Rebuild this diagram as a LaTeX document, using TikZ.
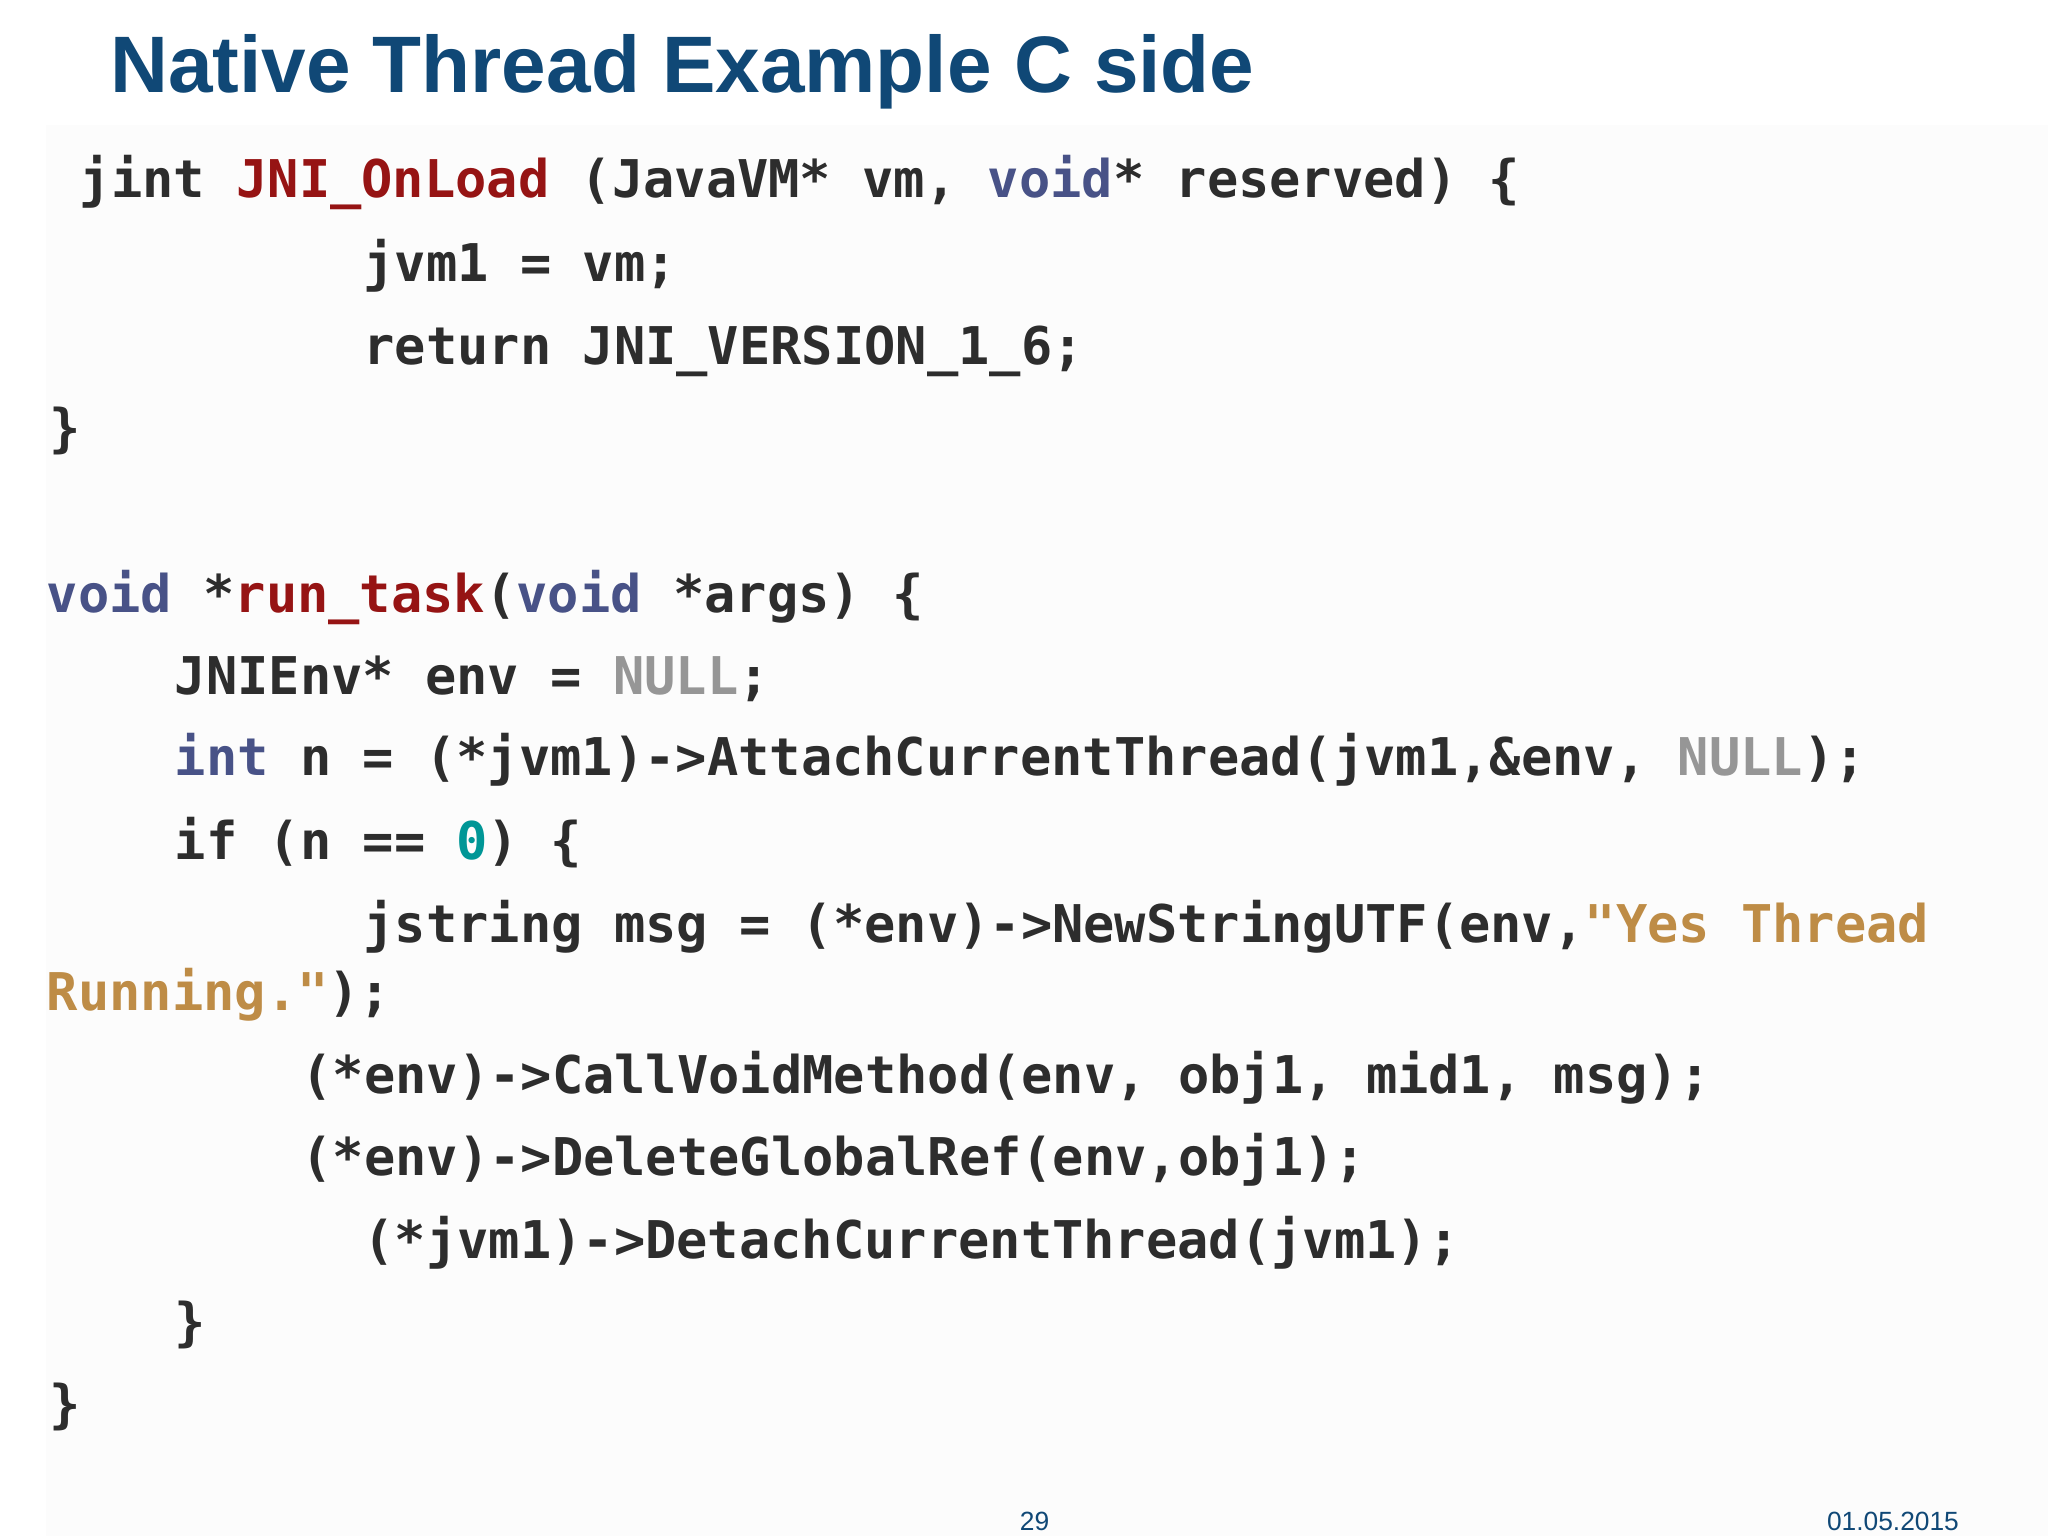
\documentclass[tikz,border=0pt]{standalone}
\usepackage{fontspec}
\setmainfont{Liberation Sans}
\newfontfamily\codefont{DejaVu Sans Mono}
\definecolor{titleblue}{RGB}{16,72,118}
\definecolor{codegray}{RGB}{45,45,45}
\definecolor{kwred}{RGB}{150,20,20}
\definecolor{kwblue}{RGB}{72,82,135}
\definecolor{nullgray}{RGB}{150,150,150}
\definecolor{numteal}{RGB}{0,150,150}
\definecolor{strtan}{RGB}{190,140,70}
\newcommand{\kr}[1]{\textcolor{kwred}{#1}}
\newcommand{\kb}[1]{\textcolor{kwblue}{#1}}
\newcommand{\kn}[1]{\textcolor{nullgray}{#1}}
\newcommand{\kt}[1]{\textcolor{numteal}{#1}}
\newcommand{\ks}[1]{\textcolor{strtan}{#1}}
\tikzset{code/.style={anchor=base west,inner sep=0pt,text=codegray,font=\codefont\bfseries\fontsize{14.8}{18}\selectfont},
foot/.style={inner sep=0pt,anchor=base,text=titleblue,font=\fontsize{7.5}{10}\selectfont}}
\begin{document}
\begin{tikzpicture}[x=0.013196cm,y=-0.013196cm]
\useasboundingbox (0,0) rectangle (1552,1164);
\fill[white] (0,0) rectangle (1552,1164);
\fill[gray!2.5] (35,95) rectangle (1552,1164);
\node[anchor=base west,inner sep=0pt,text=titleblue,font=\bfseries\fontsize{22.8}{28}\selectfont] (title) at (83,70) {Native Thread Example C side};
\node[code] (l1) at (60,150) {jint \kr{JNI\_OnLoad} (JavaVM* vm, \kb{void}* reserved) \{};
\node[code] (l2) at (275,213) {jvm1 = vm;};
\node[code] (l3) at (275,276) {return JNI\_VERSION\_1\_6;};
\node[code] (l4) at (37,338) {\}};
\node[code] (l6) at (35,464) {\kb{void} *\kr{run\_task}(\kb{void} *args) \{};
\node[code] (l7) at (132,526) {JNIEnv* env = \kn{NULL};};
\node[code] (l8) at (132,588) {\kb{int} n = (*jvm1)->AttachCurrentThread(jvm1,\&env, \kn{NULL});};
\node[code] (l9) at (132,651) {if (n == \kt{0}) \{};
\node[code] (l10) at (275,714) {jstring msg = (*env)->NewStringUTF(env,\ks{"Yes Thread}};
\node[code] (l11) at (35,766) {\ks{Running."});};
\node[code] (l12) at (228,829) {(*env)->CallVoidMethod(env, obj1, mid1, msg);};
\node[code] (l13) at (228,891) {(*env)->DeleteGlobalRef(env,obj1);};
\node[code] (l14) at (275,954) {(*jvm1)->DetachCurrentThread(jvm1);};
\node[code] (l15) at (132,1016) {\}};
\node[code] (l16) at (37,1078) {\}};
\node[foot] (page) at (784,1160) {29};
\node[foot,anchor=base east] (date) at (1485,1160) {01.05.2015};
\end{tikzpicture}
\end{document}
